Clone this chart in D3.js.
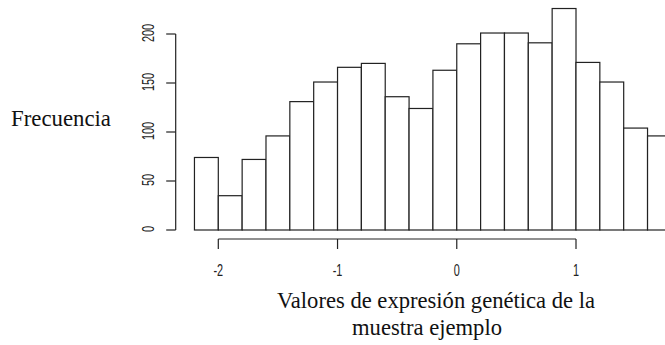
<!DOCTYPE html>
<html>
<head>
<meta charset="utf-8">
<script src="https://cdn.jsdelivr.net/npm/d3@7"></script>
<style>
  html, body { margin: 0; padding: 0; background: #fff; }
  svg { display: block; }
</style>
</head>
<body>
<div id="chart"></div>
<script>
// Histogram bin edges (start of each bin) and counts
const binStarts = [-2.2, -2.0, -1.8, -1.6, -1.4, -1.2, -1.0, -0.8, -0.6, -0.4,
                   -0.2, 0.0, 0.2, 0.4, 0.6, 0.8, 1.0, 1.2, 1.4, 1.6];
const binWidth = 0.2;
const counts = [74, 35, 72, 96, 131, 151, 166, 170, 136, 124,
                163, 190, 201, 201, 191, 226, 171, 151, 104, 96];
const xTicks = [-2, -1, 0, 1];
const yTicks = [0, 50, 100, 150, 200];
const yLabel = "Frecuencia";
const xLabelLines = ["Valores de expresión genética de la", "muestra ejemplo"];

const W = 665, H = 345;
const svg = d3.select("#chart").append("svg")
  .attr("width", W).attr("height", H);

const x = d3.scaleLinear().domain([-2, 1]).range([218.3, 576]);
const y = d3.scaleLinear().domain([0, 200]).range([230, 34]);

const bins = binStarts.map((s, i) => ({x0: s, x1: s + binWidth, n: counts[i]}));

svg.append("g").selectAll("rect").data(bins).join("rect")
  .attr("x", d => x(d.x0))
  .attr("y", d => y(d.n))
  .attr("width", d => x(d.x1) - x(d.x0))
  .attr("height", d => y(0) - y(d.n))
  .attr("fill", "#fff")
  .attr("stroke", "#222")
  .attr("stroke-width", 1.2);

// Y axis
const yAxis = svg.append("g").attr("transform", "translate(175.7,0)");
yAxis.append("line").attr("x1", 0).attr("x2", 0)
  .attr("y1", y(200)).attr("y2", y(0))
  .attr("stroke", "#222").attr("stroke-width", 1.2);
yAxis.selectAll("line.tick").data(yTicks).join("line").attr("class", "tick")
  .attr("x1", 0).attr("x2", -9.5)
  .attr("y1", d => y(d)).attr("y2", d => y(d))
  .attr("stroke", "#222").attr("stroke-width", 1.2);
svg.append("g").selectAll("text").data(yTicks).join("text")
  .attr("transform", d => `translate(154.3,${y(d) - 1}) rotate(-90) scale(0.68,1)`)
  .attr("text-anchor", "middle")
  .attr("font-family", "Liberation Sans, Arial, sans-serif")
  .attr("font-size", 16)
  .attr("fill", "#222")
  .text(d => d);

// X axis
const xAxis = svg.append("g").attr("transform", "translate(0,239)");
xAxis.append("line").attr("x1", x(-2)).attr("x2", x(1))
  .attr("y1", 0).attr("y2", 0)
  .attr("stroke", "#222").attr("stroke-width", 1.2);
xAxis.selectAll("line.tick").data(xTicks).join("line").attr("class", "tick")
  .attr("x1", d => x(d)).attr("x2", d => x(d))
  .attr("y1", 0).attr("y2", 10)
  .attr("stroke", "#222").attr("stroke-width", 1.2);
svg.append("g").selectAll("text").data(xTicks).join("text")
  .attr("transform", d => `translate(${x(d)},275.5) scale(0.68,1)`)
  .attr("text-anchor", "middle")
  .attr("font-family", "Liberation Sans, Arial, sans-serif")
  .attr("font-size", 16)
  .attr("fill", "#222")
  .text(d => d);

// Axis titles
svg.append("text")
  .attr("x", 11).attr("y", 126)
  .attr("font-family", "Liberation Serif, Times New Roman, serif")
  .attr("font-size", 22.8)
  .attr("fill", "#111")
  .text(yLabel);

const xCenters = [436, 427];
const xBaselines = [308, 335];
svg.append("g").selectAll("text").data(xLabelLines).join("text")
  .attr("x", (d, i) => xCenters[i]).attr("y", (d, i) => xBaselines[i])
  .attr("text-anchor", "middle")
  .attr("font-family", "Liberation Serif, Times New Roman, serif")
  .attr("font-size", 22.6)
  .attr("fill", "#111")
  .text(d => d);
</script>
</body>
</html>
